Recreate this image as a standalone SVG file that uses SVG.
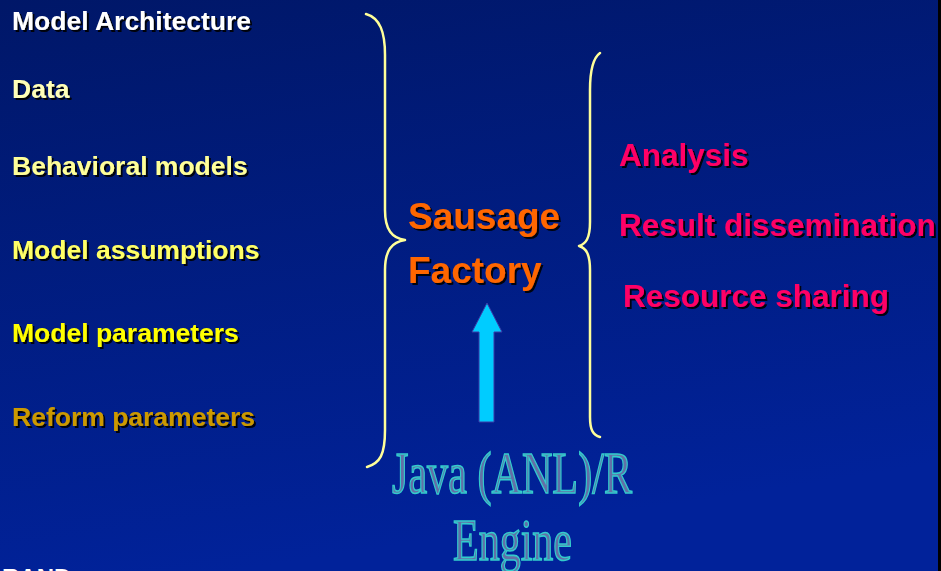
<svg xmlns="http://www.w3.org/2000/svg" width="941" height="571" viewBox="0 0 941 571">
  <defs>
    <linearGradient id="bg" x1="0" y1="0" x2="0.25" y2="1">
      <stop offset="0" stop-color="#001768"/>
      <stop offset="1" stop-color="#01229a"/>
    </linearGradient>
    <filter id="sh" x="-5%" y="-20%" width="115%" height="150%">
      <feDropShadow dx="2" dy="2" stdDeviation="0.4" flood-color="#000000" flood-opacity="0.9"/>
    </filter>
    <style>
      .t { font-family: "Liberation Sans", Arial, sans-serif; font-weight: bold; filter: url(#sh); }
      .left { font-size: 26.5px; }
      .right { font-size: 31.5px; fill: #FF0066; }
      .center { font-size: 37px; fill: #FF6600; }
      .brace { fill: none; stroke: #FFFF99; stroke-width: 2.5; stroke-linecap: round; stroke-linejoin: round; }
      .eng { font-family: "Liberation Serif", "Times New Roman", serif; font-size: 60px; fill: #6270a8; stroke: #33CCCC; stroke-width: 1.6; }
    </style>
  </defs>
  <rect x="0" y="0" width="941" height="571" fill="url(#bg)"/>
  <rect x="938" y="0" width="3" height="571" fill="#000000"/>

  <g id="inputs">
    <text class="t left" x="12" y="30" fill="#FFFFFF">Model Architecture</text>
    <text class="t left" x="12" y="98" fill="#FFFFB8">Data</text>
    <text class="t left" x="12" y="175" fill="#FFFF99">Behavioral models</text>
    <text class="t left" x="12" y="259" fill="#FFFF66">Model assumptions</text>
    <text class="t left" x="12" y="342" fill="#FFFF00">Model parameters</text>
    <text class="t left" x="12" y="426" fill="#CC9900">Reform parameters</text>
  </g>

  <g id="sausage-factory">
    <text class="t center" x="408" y="229">Sausage</text>
    <text class="t center" x="408" y="283">Factory</text>
  </g>

  <g id="outputs">
    <text class="t right" x="619" y="166">Analysis</text>
    <text class="t right" x="619" y="236">Result dissemination</text>
    <text class="t right" x="623" y="307">Resource sharing</text>
  </g>

  <g id="engine">
    <text class="eng" x="392" y="493" textLength="240" lengthAdjust="spacingAndGlyphs">Java (ANL)/R</text>
    <text class="eng" x="453" y="560" textLength="119" lengthAdjust="spacingAndGlyphs">Engine</text>
  </g>

  <g id="connectors">
    <path class="brace" d="M366,14 C380,18 385,32 385,55 L385,210 C385,230 392,238 405,240 C392,242 385,250 385,270 L385,430 C385,455 380,463 367,467"/>
    <path class="brace" d="M600,53 C593,58 590,70 590,90 L590,222 C590,238 586,244 579,246 C586,248 590,254 590,270 L590,417 C590,430 593,435 600,437"/>
    <path d="M487,303 L502,332 L494,332 L494,422 L479,422 L479,332 L472,332 Z" fill="#00CCFF" stroke="#3a3aa8" stroke-width="1"/>
  </g>

  <g id="logo">
    <text x="2" y="586" font-family="'Liberation Sans', Arial, sans-serif" font-weight="bold" font-size="24" fill="#FFFFFF">RAND</text>
  </g>
</svg>
